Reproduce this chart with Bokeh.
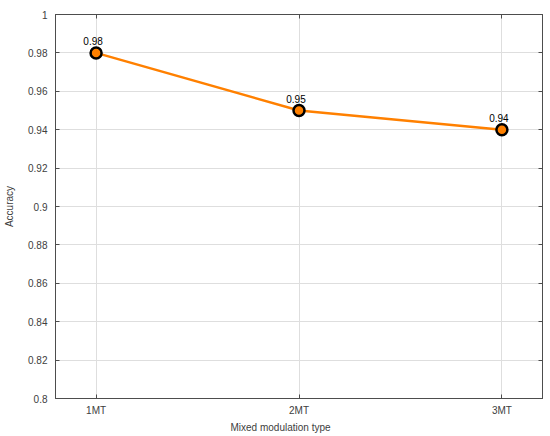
from bokeh.plotting import figure
from bokeh.models import LinearAxis, FixedTicker, Range1d, ColumnDataSource, LabelSet, Title
from bokeh.core.properties import value
from bokeh.embed import file_html
from bokeh.resources import INLINE

categories = ["1MT", "2MT", "3MT"]
x_pos = [1, 2, 3]
accuracy = [0.98, 0.95, 0.94]
labels = ["0.98", "0.95", "0.94"]
y_ticks = [0.8, 0.82, 0.84, 0.86, 0.88, 0.9, 0.92, 0.94, 0.96, 0.98, 1.0]
y_tick_labels = ["0.8", "0.82", "0.84", "0.86", "0.88", "0.9", "0.92", "0.94", "0.96", "0.98", "1"]
x_title = "Mixed modulation type"
y_title = "Accuracy"

FONT = "Liberation Sans"
AX = "#4d4d4d"
TXT = "#404040"

p = figure(width=550, height=436, output_backend="svg", toolbar_location=None,
           x_range=Range1d(0.8, 3.2), y_range=Range1d(0.8, 1.0),
           min_border_left=55, min_border_right=8, min_border_top=14, min_border_bottom=38,
           x_axis_location="below", y_axis_location="left")
p.outline_line_color = AX
p.outline_line_width = 1
p.background_fill_color = "white"
p.border_fill_color = "white"

p.xaxis.ticker = FixedTicker(ticks=x_pos)
p.xaxis.major_label_overrides = {x: c for x, c in zip(x_pos, categories)}
p.yaxis.ticker = FixedTicker(ticks=y_ticks)
p.yaxis.major_label_overrides = {t: l for t, l in zip(y_ticks, y_tick_labels)}

for ax in [p.xaxis[0], p.yaxis[0]]:
    ax.axis_line_color = AX
    ax.major_tick_line_color = AX
    ax.major_tick_in = 4
    ax.major_tick_out = 0
    ax.minor_tick_line_color = None
    ax.major_label_text_font = FONT
    ax.major_label_text_font_size = "10px"
    ax.major_label_text_color = TXT
    ax.axis_label_text_font = FONT
    ax.axis_label_text_font_size = "10px"
    ax.axis_label_text_color = TXT
    ax.axis_label_text_font_style = "normal"

p.yaxis.axis_label = y_title
p.xaxis.major_label_standoff = 6
p.yaxis.major_label_standoff = 8
p.yaxis.axis_label_standoff = 10

top = LinearAxis(ticker=FixedTicker(ticks=x_pos),
                 major_label_overrides={x: "" for x in x_pos},
                 major_tick_in=4, major_tick_out=0, minor_tick_line_color=None,
                 axis_line_color=AX, major_tick_line_color=AX)
right = LinearAxis(ticker=FixedTicker(ticks=y_ticks),
                   major_label_overrides={t: "" for t in y_ticks},
                   major_tick_in=4, major_tick_out=0, minor_tick_line_color=None,
                   axis_line_color=AX, major_tick_line_color=AX)
top.major_label_standoff = 0
right.major_label_standoff = 0
p.add_layout(top, "above")
p.add_layout(right, "right")

p.xgrid.ticker = FixedTicker(ticks=x_pos)
p.ygrid.ticker = FixedTicker(ticks=y_ticks)
p.grid.grid_line_color = "#dedede"
p.grid.grid_line_width = 1

src = ColumnDataSource(dict(x=x_pos, y=accuracy, t=labels))
p.line("x", "y", source=src, line_color="#FF8000", line_width=2.5)
p.scatter("x", "y", source=src, size=11, fill_color="#FF8000", line_color="black", line_width=2.5)

ls = LabelSet(x="x", y="y", text="t", source=src, x_offset=-3, y_offset=8,
              text_font=value(FONT), text_font_size="10px", text_color="black",
              text_align="center", text_baseline="bottom")
p.add_layout(ls)

# x-axis title, placed slightly left of centre as in the reference
xt = Title(text=x_title, align="left", offset=175, standoff=2,
           text_font=FONT, text_font_size="10px", text_color=TXT,
           text_font_style="normal")
p.add_layout(xt, "below")

open("out.html", "w").write(file_html(p, INLINE))
